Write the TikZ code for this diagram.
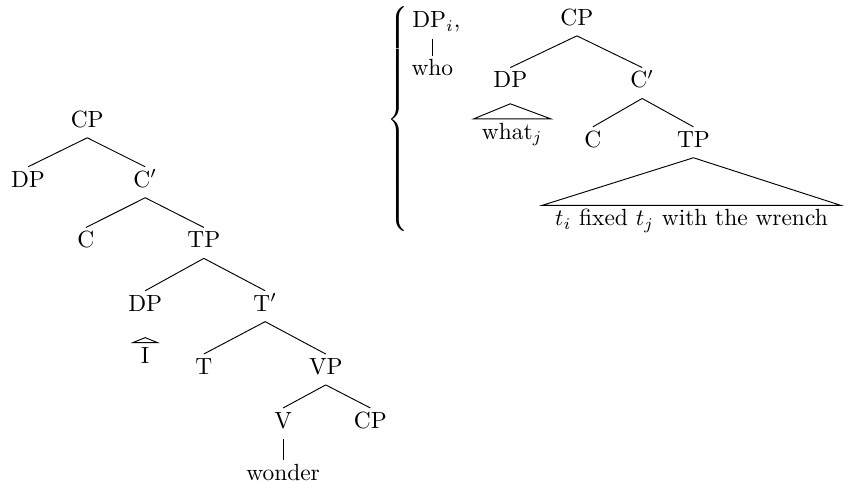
\documentclass[tikz,border=0pt]{standalone}
\usepackage{tikz}
\usepackage{amsmath}
\usetikzlibrary{calc}

\begin{document}
\begin{tikzpicture}[
        cat/.style={
            anchor=base,
            inner xsep=3.33pt,
            inner ysep=1.5pt,
            text height=7pt,
            text depth=2.8pt
        },
        bracebox/.style={
            inner sep=0pt
        }
    ]

    % Page frame
    \clip (0,0) rectangle (12.85,-7.24);

    % Left tree: matrix clause
    \node[cat] (cpA) at (1.31,-1.91) {CP};
    \node[cat] (dpA) at (0.42,-2.81) {DP};
    \node[cat] (cbarA) at (2.18,-2.81) {C$'$};
    \node[cat] (cA) at (1.29,-3.72) {C};
    \node[cat] (tpA) at (3.06,-3.72) {TP};
    \node[cat] (dpB) at (2.18,-4.67) {DP};
    \node[cat] (tbar) at (3.98,-4.67) {T$'$};
    \node[cat] (iword) at (2.18,-5.45) {I};
    \node[cat] (tA) at (3.06,-5.62) {T};
    \node[cat] (vp) at (4.89,-5.62) {VP};
    \node[cat] (vA) at (4.25,-6.43) {V};
    \node[cat] (cpB) at (5.56,-6.43) {CP};
    \node[cat] (wonder) at (4.25,-7.21) {wonder};

    \draw (cpA.south) -- (dpA.north);
    \draw (cpA.south) -- (cbarA.north);
    \draw (cbarA.south) -- (cA.north);
    \draw (cbarA.south) -- (tpA.north);
    \draw (tpA.south) -- (dpB.north);
    \draw (tpA.south) -- (tbar.north);
    \draw ([yshift=-0.24cm]dpB.south) -- (iword.north west) -- (iword.north east) -- cycle;
    \draw (tbar.south) -- (tA.north);
    \draw (tbar.south) -- (vp.north);
    \draw (vp.south) -- (vA.north);
    \draw (vp.south) -- (cpB.north);
    \draw (vA.south) -- (wonder.north);

    % Braces round the embedded clause
    \node[bracebox] (lbr) at (6.0,-1.79) {$\left\{\vcenter{\hbox{\rule{0pt}{100pt}}}\right.$};
    \node[bracebox] (rbr) at (12.93,-1.79) {$\left.\vcenter{\hbox{\rule{0pt}{100pt}}}\right\}$};

    % Right tree: embedded question
    \node[cat] (dpi) at (6.55,-0.42) {DP$_i$,};
    \node[cat] (who) at (6.49,-1.14) {who};
    \node[cat] (cpR) at (8.66,-0.38) {CP};
    \node[cat] (dpR) at (7.66,-1.32) {DP};
    \node[cat] (cbarR) at (9.64,-1.32) {C$'$};
    \node[cat] (what) at (7.69,-2.09) {what$_j$};
    \node[cat] (cR) at (8.90,-2.21) {C};
    \node[cat] (tpR) at (10.41,-2.21) {TP};
    \node[cat, inner xsep=5.5pt] (wrench) at (10.38,-3.39) {$t_i$ fixed $t_j$ with the wrench};

    \draw (who.north |- dpi.south) -- (who.north);
    \draw (cpR.south) -- (dpR.north);
    \draw (cpR.south) -- (cbarR.north);
    \draw ([yshift=-0.08cm]dpR.south) -- (what.north west) -- (what.north east) -- cycle;
    \draw (cbarR.south) -- (cR.north);
    \draw (cbarR.south) -- (tpR.north);
    \draw (tpR.south) -- (wrench.north west) -- (wrench.north east) -- cycle;

\end{tikzpicture}
\end{document}
